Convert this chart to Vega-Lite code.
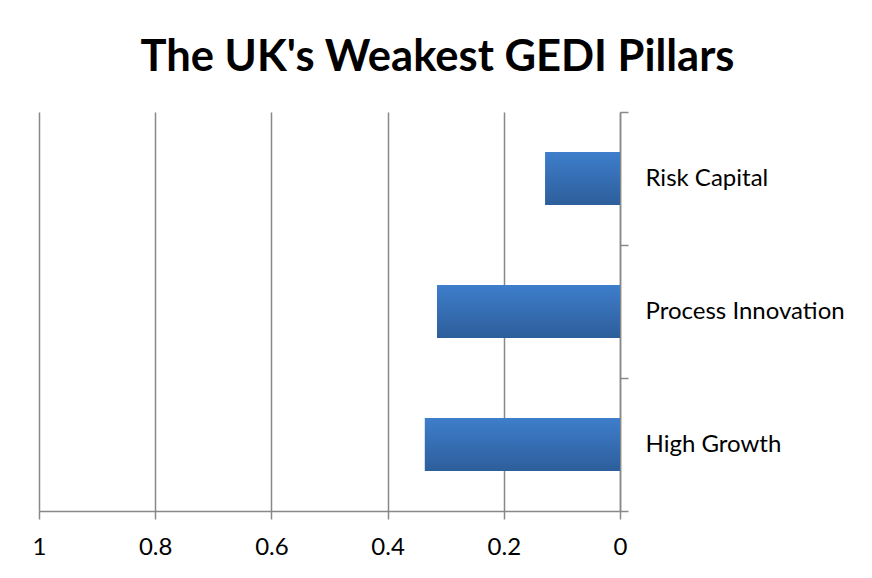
{
  "$schema": "https://vega.github.io/schema/vega-lite/v6.json",
  "width": 581,
  "height": 399,
  "autosize": {"type": "none"},
  "padding": {"left": 39, "top": 112, "right": 252, "bottom": 67},
  "background": "white",
  "title": {
    "text": "The UK's Weakest GEDI Pillars",
    "font": "Lato",
    "fontSize": 43.5,
    "fontWeight": "bold",
    "color": "#000000",
    "anchor": "middle",
    "frame": "group",
    "dx": 108,
    "baseline": "alphabetic",
    "offset": -14
  },
  "data": {
    "values": [
      {"pillar": "Risk Capital", "score": 0.129},
      {"pillar": "Process Innovation", "score": 0.315},
      {"pillar": "High Growth", "score": 0.336}
    ]
  },
  "mark": {
    "type": "bar",
    "height": {"band": 0.4},
    "color": {
      "gradient": "linear",
      "x1": 0, "y1": 0, "x2": 0, "y2": 1,
      "stops": [
        {"offset": 0, "color": "#3e7ecb"},
        {"offset": 1, "color": "#2d5e9b"}
      ]
    }
  },
  "encoding": {
    "y": {
      "field": "pillar",
      "type": "nominal",
      "sort": ["Risk Capital", "Process Innovation", "High Growth"],
      "scale": {"paddingInner": 0, "paddingOuter": 0},
      "axis": {
        "orient": "right",
        "title": null,
        "tickBand": "extent",
        "tickSize": 8,
        "tickColor": "#888888",
        "domainColor": "#888888",
        "domainWidth": 1.5,
        "tickWidth": 1.5,
        "labelFont": "Lato",
        "labelFontSize": 24,
        "labelColor": "#000000",
        "labelPadding": 17,
        "labelLimit": 0,
        "grid": false
      }
    },
    "x": {
      "field": "score",
      "type": "quantitative",
      "scale": {"domain": [0, 1], "reverse": true, "nice": false},
      "axis": {
        "orient": "bottom",
        "title": null,
        "values": [0, 0.2, 0.4, 0.6, 0.8, 1],
        "format": "~g",
        "labelFlush": false,
        "tickSize": 8,
        "tickColor": "#888888",
        "domainColor": "#888888",
        "domainWidth": 1.5,
        "tickWidth": 1.5,
        "grid": true,
        "gridColor": "#888888",
        "gridWidth": 1.5,
        "labelFont": "Lato",
        "labelFontSize": 24,
        "labelColor": "#000000",
        "labelBaseline": "alphabetic",
        "labelPadding": 35
      }
    }
  },
  "config": {
    "view": {"stroke": null}
  }
}
